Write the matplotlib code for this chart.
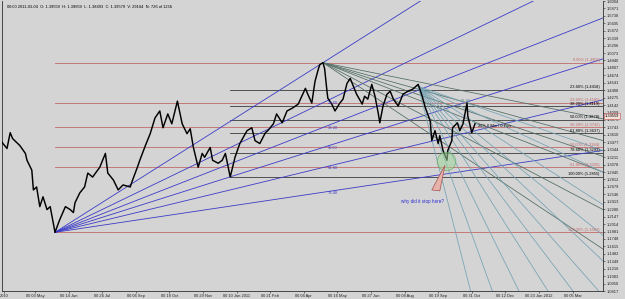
import numpy as np
import matplotlib
matplotlib.use("Agg")
import matplotlib.pyplot as plt
from matplotlib.patches import Polygon

# price path: days after 2010-05-03 and price
days = [-44, -40, -35, -31, -28, -19, -12, -10, -4, -2,
        2, 6, 10, 15, 19, 22, 25, 31, 38, 44,
        48, 50, 56, 62, 66, 72, 81, 88, 91, 98,
        104, 110, 119, 122, 128, 131, 138, 144, 150, 156,
        160, 166, 171, 178, 184, 190, 194, 198, 204, 209,
        212, 219, 222, 229, 234, 238, 244, 250, 256, 265,
        271, 275, 281, 288, 291, 298, 302, 309, 315, 322,
        329, 338, 341, 346, 350, 354, 356, 360, 362, 365,
        366, 371, 375, 381, 385, 390, 394, 398, 402, 409,
        412, 416, 421, 425, 429, 431, 435, 440, 444, 448,
        454, 460, 466, 472, 479, 484, 488, 494, 496, 500,
        504, 506, 510, 515, 516, 521, 522, 528, 531, 535,
        540, 541, 546, 550]
price = [1.3543, 1.3454, 1.3366, 1.3649, 1.3543, 1.3419, 1.3278, 1.3155, 1.2978, 1.2625,
         1.2678, 1.2326, 1.2502, 1.2273, 1.2326, 1.2096, 1.1867, 1.2096, 1.2326, 1.2273,
         1.2220, 1.2396, 1.2572, 1.2678, 1.2926, 1.2855, 1.3031, 1.3278, 1.2926, 1.2802,
         1.2625, 1.2714, 1.2678, 1.2802, 1.3031, 1.3155, 1.3419, 1.3631, 1.3913, 1.4037,
         1.3737, 1.3984, 1.3807, 1.4213, 1.3807, 1.3631, 1.3719, 1.3384, 1.3031, 1.3278,
         1.3208, 1.3384, 1.3155, 1.3102, 1.3155, 1.3278, 1.2855, 1.3208, 1.3454, 1.3684,
         1.3737, 1.3507, 1.3454, 1.3649, 1.3684, 1.3807, 1.3984, 1.3825, 1.4037, 1.4090,
         1.4160, 1.4442, 1.4337, 1.4178, 1.4566, 1.4778, 1.4866, 1.4901, 1.4795, 1.4389,
         1.4266, 1.4160, 1.4037, 1.4178, 1.4248, 1.4531, 1.4619, 1.4478, 1.4337, 1.4160,
         1.4301, 1.4248, 1.4513, 1.4301, 1.4001, 1.3825, 1.4125, 1.4337, 1.4389, 1.4248,
         1.4125, 1.4337, 1.4389, 1.4425, 1.4513, 1.4301, 1.4090, 1.3860, 1.3507, 1.3684,
         1.3454, 1.3596, 1.3331, 1.3155, 1.3331, 1.3507, 1.3737, 1.3825, 1.3684, 1.3807,
         1.4178, 1.3948, 1.3649, 1.3807]

# fib retracement of the big swing (red) and of the Jan-May swing (black)
red_levels = [0.0, 23.6, 38.2, 50.0, 61.8, 100.0]
black_levels = [23.6, 38.2, 50.0, 61.8, 78.6, 100.0]
swing_low, swing_high, jan_low = 1.1867, 1.4901, 1.2855
low_day, high_day, jan_day = 25, 360, 244

# blue fib fan from the 2010 low to the May 2011 high
blue_fan = [0.0, 23.6, 38.2, 50.0, 61.8, 76.4]
blue_fan_labels = ["23.60", "38.20", "50.00", "61.80", "76.40"]

# dark fan from the May high: points the lines pass through (day, price)
dark_fan_days = [710, 710, 710, 710, 710, 710]
dark_fan_price = [1.3896, 1.3507, 1.3225, 1.2943, 1.2273, 1.1567]

# teal fan from the Aug high
aug_day, aug_high = 479, 1.4478
teal_fan_days = [544, 571, 604, 640, 671, 703, 710, 710, 710, 710, 710]
teal_fan_price = [1.0844, 1.0844, 1.0844, 1.0844, 1.0844, 1.0844,
                  1.1355, 1.1814, 1.2361, 1.2943, 1.3331]

oct_day, oct_low = 515, 1.3155

xtick_days = [-39, 0, 42, 84, 126, 168, 210, 252, 294, 336, 378, 420, 462, 504,
              546, 588, 630, 672]
xtick_labels = ["2010", "00 03 May", "00 14 Jun", "00 26 Jul", "00 06 Sep",
                "00 18 Oct", "00 29 Nov", "00 10 Jan 2011", "00 21 Feb",
                "00 04 Apr", "00 16 May", "00 27 Jun", "00 08 Aug", "00 19 Sep",
                "00 31 Oct", "00 12 Dec", "00 23 Jan 2012", "00 05 Mar"]
ytick_labels = ["1.0817", "1.0950", "1.1083", "1.1216", "1.1349", "1.1482",
                "1.1615", "1.1748", "1.1881", "1.2014", "1.2147", "1.2280",
                "1.2413", "1.2546", "1.2679", "1.2812", "1.2945", "1.3078",
                "1.3211", "1.3344", "1.3477", "1.3610", "1.3743", "1.3876",
                "1.4009", "1.4142", "1.4275", "1.4408", "1.4541", "1.4674",
                "1.4807", "1.4940", "1.5073", "1.5206", "1.5339", "1.5472",
                "1.5605", "1.5738", "1.5871", "1.6004"]
last_price = 1.39559
title = ("00:00 2011-03-04  O: 1.39559  H: 1.39659  L: 1.38493  C: 1.39579  "
         "V: 29164  N: 726 of 1256")

plt.rcParams['font.family'] = ['Liberation Sans', 'DejaVu Sans']
fs = 2.9
bg = '#d4d4d4'
red = '#c46a6a'
blue = '#3b3bc8'
xmin, xmax = -41.25, 710
ymin, ymax = 1.0844, 1.5959

fig = plt.figure(figsize=(6.25, 2.99), dpi=100)
fig.patch.set_facecolor(bg)
ax = fig.add_axes([2 / 625, 8 / 299, 601 / 625, 290 / 299])
ax.set_facecolor(bg)
ax.set_xlim(xmin, xmax)
ax.set_ylim(ymin, ymax)


def ray(x0, y0, x1, y1, **kw):
    slope = (y1 - y0) / (x1 - x0)
    xe = xmax + 5
    ax.plot([x0, xe], [y0, y0 + slope * (xe - x0)], **kw)


# red retracement
rng = swing_high - swing_low
for lv in red_levels:
    p = swing_high - lv / 100 * rng
    ax.plot([low_day, xmax], [p, p], color=red, lw=0.6, zorder=2)
    ax.text(xmax - 4, p + 0.001, "%.2f%% (%.4f)" % (lv, p), color=red,
            fontsize=fs, ha='right', va='bottom', zorder=6)

# black retracement
rng2 = swing_high - jan_low
for lv in black_levels:
    p = swing_high - lv / 100 * rng2
    ax.plot([jan_day, xmax], [p, p], color='#3a3a3a', lw=0.6, zorder=2)
    ax.text(xmax - 4, p + 0.001, "%.2f%% (%.4f)" % (lv, p), color='black',
            fontsize=fs, ha='right', va='bottom', zorder=6)

# blue fan from the 2010 low
for lv in blue_fan:
    p = swing_high - lv / 100 * rng
    ray(low_day, swing_low, high_day, p, color=blue, lw=0.6, zorder=3)
for lab in blue_fan_labels:
    p = swing_high - float(lab) / 100 * rng
    ax.text(high_day + 6, p - 0.001, lab, color=blue, fontsize=fs,
            ha='left', va='center', zorder=6)

# dark fan from the May high
for d, p in zip(dark_fan_days, dark_fan_price):
    ray(high_day, swing_high, d, p, color='#4f6b62', lw=0.55, zorder=3)

# teal fan from the Aug high
for d, p in zip(teal_fan_days, teal_fan_price):
    ray(aug_day, aug_high, d, p, color='#74a2b4', lw=0.55, zorder=3)

ax.plot(days, price, color='black', lw=1.05, zorder=4)

# annotation
ax.plot([oct_day - 1], [oct_low - 0.001], 'o', ms=13.4, mfc='#9fd69a',
        mec='#4a9a4a', mew=0.6, alpha=0.55, zorder=5)
ax.add_patch(Polygon([[512.5, 1.3066], [496, 1.2625], [506, 1.2608]],
                     facecolor='#e6b2aa', edgecolor='#a85050', lw=0.5, zorder=5))
ax.text(484, 1.2414, "why did it stop here?", color='#2f2fd0', fontsize=3.3,
        ha='center', va='center')
ax.text(554, 1.3772, "26% 0 Min / 0 Pips", color='black', fontsize=fs,
        ha='left', va='center', zorder=6)
ax.text(539, 1.4213, "61.80", color='#6a8a90', fontsize=fs, ha='center',
        va='center', zorder=6)

ax.text(0.008, 0.985, title, transform=ax.transAxes, fontsize=fs,
        ha='left', va='top')

# axes
ax.yaxis.tick_right()
ax.set_yticks([float(s) for s in ytick_labels])
ax.set_yticklabels(ytick_labels)
ax.set_xticks(xtick_days)
ax.set_xticklabels(xtick_labels)
ax.tick_params(axis='both', labelsize=fs, length=1.5, width=0.4, pad=1,
               colors='#202020')
for s in ax.spines.values():
    s.set_color('#303030')
    s.set_linewidth(0.6)
ax.spines['top'].set_visible(False)

ax.text(xmax + 2, last_price, "%.5f" % last_price, fontsize=fs, ha='left',
        va='center', zorder=10, clip_on=False,
        bbox=dict(boxstyle='square,pad=0.25', facecolor='#f4e0d8',
                  edgecolor='#c05050', lw=0.4))

fig.savefig("out.png", dpi=100, facecolor=bg)
